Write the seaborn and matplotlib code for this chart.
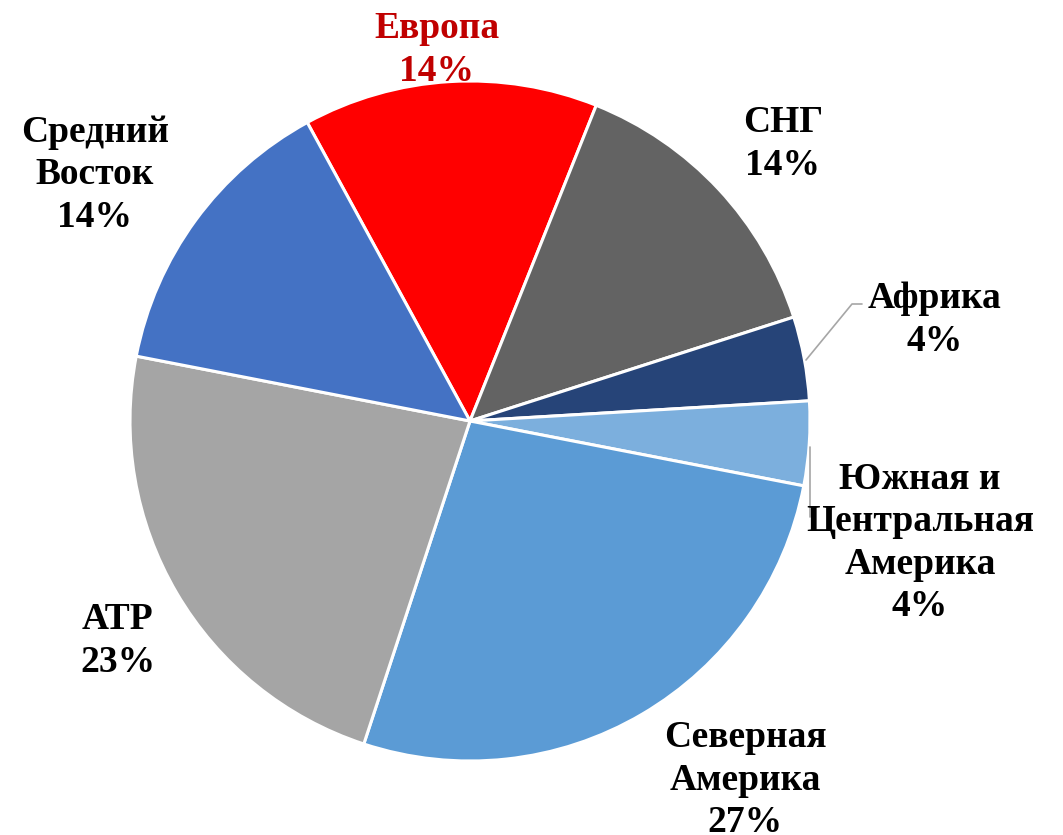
import matplotlib
matplotlib.use("Agg")
import matplotlib.pyplot as plt
import seaborn as sns

# regional shares, clockwise from Europe
regions = ["Европа", "СНГ", "Африка", "Южная и\nЦентральная\nАмерика",
           "Северная\nАмерика", "АТР", "Средний\nВосток"]
shares = [14, 14, 4, 4, 27, 23, 14]
colors = ["#FF0000", "#636363", "#264478", "#7CAFDD", "#5B9BD5", "#A5A5A5", "#4472C4"]

# label placement (pixel coords, y from top)
label_pos = [(437, 50), (783, 144), (935, 320), (920, 543),
             (745, 780), (118, 641), (95, 175)]
label_col = ["#C00000", "black", "black", "black", "black", "black", "black"]

sns.set_theme(style="white")
plt.rcParams['font.family'] = ['Liberation Serif', 'DejaVu Serif']

W, H = 1063, 835
fig = plt.figure(figsize=(W / 100, H / 100), dpi=100)
ax = fig.add_axes([0, 0, 1, 1])
ax.set_xlim(0, W)
ax.set_ylim(0, H)
ax.set_aspect('equal')
ax.axis('off')

ax.pie(shares, colors=colors, startangle=118.6, counterclock=False,
       center=(470, H - 421), radius=340,
       wedgeprops=dict(edgecolor='white', linewidth=2.2))

for name, val, (x, y), c in zip(regions, shares, label_pos, label_col):
    ax.text(x, H - y, f"{name}\n{val}%", ha='center', va='center',
            fontsize=27, fontweight='bold', color=c, linespacing=1.27)

# leader lines
ax.plot([806, 852, 862], [H - 360, H - 304, H - 304], color='#A6A6A6', lw=1.2)
ax.plot([810, 810], [H - 447, H - 517], color='#A6A6A6', lw=1.2)

ax.set_xlim(0, W)
ax.set_ylim(0, H)
fig.savefig("out.png", dpi=100)
